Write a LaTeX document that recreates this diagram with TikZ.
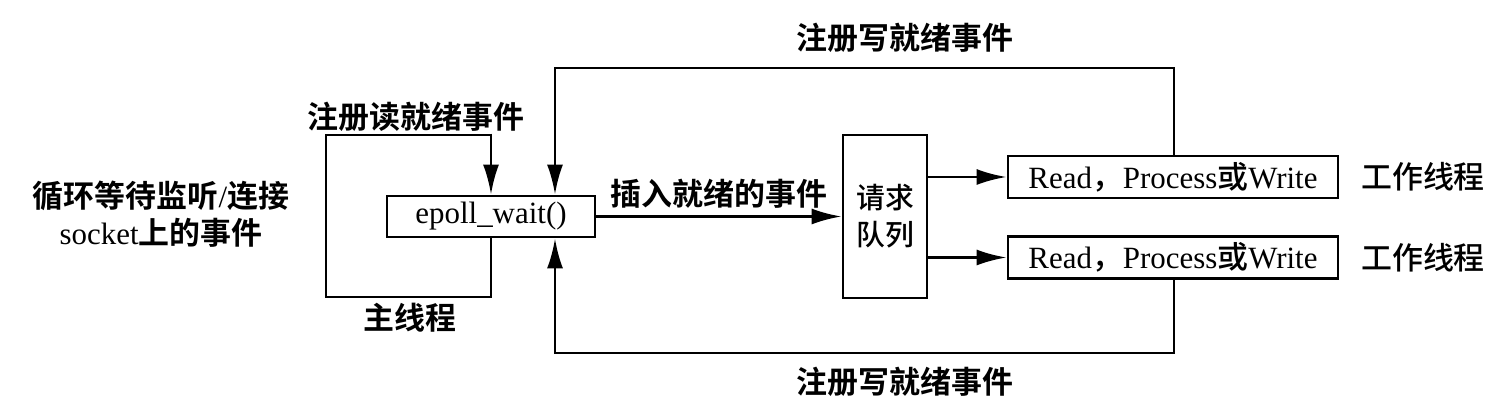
\documentclass[tikz,border=0pt]{standalone}
\usepackage{fontspec}
\setmainfont{Liberation Serif}
\newfontfamily\cjk{Noto Sans CJK SC}[BoldFont={Noto Sans CJK SC Bold}]
\newfontfamily\cjkm{Noto Sans CJK SC Medium}
\usetikzlibrary{arrows.meta,positioning,calc}

\begin{document}
\begin{tikzpicture}[
box/.style={
  draw,
  line width=0.8pt,
  inner sep=0pt,
  font=\fontsize{8.8pt}{10.5pt}\selectfont
},
lbl/.style={
  font=\cjk\bfseries\fontsize{8.8pt}{10.5pt}\selectfont,
  inner sep=0pt
},
wlbl/.style={
  font=\cjkm\fontsize{8.8pt}{10.5pt}\selectfont,
  inner sep=0pt
},
line/.style={line width=0.8pt},
arr/.style={line width=0.8pt,-{Latex[length=3mm,width=1.6mm]}}
]
\useasboundingbox[fill=white] (0,0) rectangle (15.07,4.16);

% main thread
\node[box,minimum width=2.08cm,minimum height=0.41cm] at (4.91,1.995)
  (epoll) {epoll\_wait()};
\node[lbl,align=center,font=\fontsize{8.8pt}{10.5pt}\selectfont] at (1.61,2.015)
  (listen) {{\cjk\bfseries 循环等待监听}/{\cjk\bfseries 连接}\\socket{\cjk\bfseries 上的事件}};
\coordinate (lp1) at (3.26,2.81);
\coordinate (lp2) at (3.26,1.19);
\draw[line] (epoll.south) |- (lp2) -- (lp1) -- (lp1-|epoll.north);
\draw[arr] ([yshift=0.4pt]lp1-|epoll.north) -- (epoll.north);
\node[lbl] at (4.16,2.99) (readreg) {注册读就绪事件};
\node[lbl] at (4.10,0.98) (mainthr) {主线程};

% request queue
\node[box,minimum width=0.84cm,minimum height=1.63cm,align=center,
  font=\cjkm\fontsize{8.2pt}{10.5pt}\selectfont] at (8.85,1.995)
  (queue) {请求\\队列};
\draw[arr] (epoll.east) -- node[above=2pt,lbl] (insert) {插入就绪的事件} (epoll.east-|queue.west);

% worker threads
\node[box,minimum width=3.30cm,minimum height=0.42cm] at (11.73,2.39)
  (rw1) {Read{\cjkm ，}Process{\cjkm 或}Write};
\node[box,minimum width=3.30cm,minimum height=0.42cm] at (11.73,1.585)
  (rw2) {Read{\cjkm ，}Process{\cjkm 或}Write};
\node[wlbl] at (14.23,2.39) (work1) {工作线程};
\node[wlbl] at (14.23,1.585) (work2) {工作线程};
\draw[arr] (queue.east|-rw1) -- (rw1.west);
\draw[arr] (queue.east|-rw2) -- (rw2.west);

% write ready registration
\coordinate (wr) at (5.55,1.995);
\coordinate (wtop) at (11.74,3.48);
\coordinate (wbot) at (11.74,0.63);
\draw[arr] (wtop|-rw1.north) -- (wtop) -| (wr|-epoll.north);
\draw[arr] (wbot|-rw2.south) -- (wbot) -| (wr|-epoll.south);
\node[lbl] at (9.05,3.78) (wrtop) {注册写就绪事件};
\node[lbl] at (9.05,0.34) (wrbot) {注册写就绪事件};
\end{tikzpicture}
\end{document}
